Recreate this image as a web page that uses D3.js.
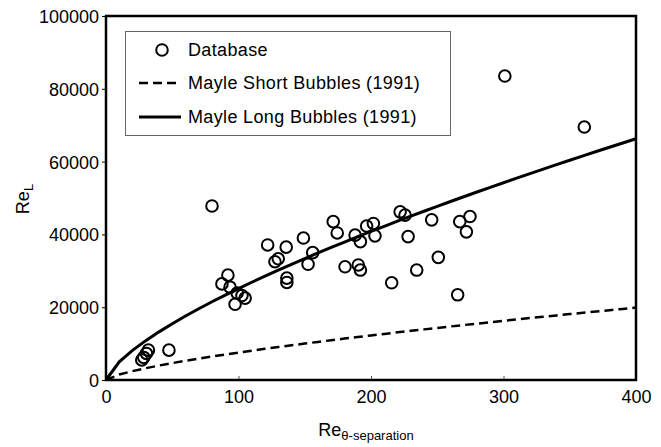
<!DOCTYPE html>
<html>
<head>
<meta charset="utf-8">
<script src="https://cdn.jsdelivr.net/npm/d3@7"></script>
<style>
  body { margin: 0; background: #fff; }
  text { font-family: "Liberation Sans", Arial, sans-serif; fill: #000; }
</style>
</head>
<body>
<svg id="chart" width="661" height="447"></svg>
<script>
// Database points
const dbX = [27, 28.5, 30.5, 32, 47.5, 80, 87.5, 92, 93.6, 97.4, 99, 102.6, 105, 122, 127.5, 130, 136, 136.5, 136.5, 149, 152.5, 156, 171.5, 174.5, 180.4, 188, 190.4, 192, 192, 196.7, 201.8, 203, 215.6, 222, 225.7, 228, 234.5, 245.8, 250.8, 265.4, 267, 272, 274.7, 301, 361];
const dbY = [5500, 6200, 7300, 8200, 8200, 47800, 26400, 28800, 25500, 20800, 23900, 23200, 22500, 37100, 32500, 33300, 36500, 28000, 26800, 39000, 31800, 35000, 43500, 40400, 31100, 39800, 31600, 30200, 38000, 42300, 43000, 39600, 26700, 46200, 45300, 39400, 30200, 44000, 33700, 23400, 43500, 40700, 44900, 83500, 69500];

// Mayle curves sampled along x
const curveX = [0, 10, 20, 30, 40, 50, 60, 70, 80, 90, 100, 110, 120, 130, 140, 150, 160, 170, 180, 190, 200, 210, 220, 230, 240, 250, 260, 270, 280, 290, 300, 310, 320, 330, 340, 350, 360, 370, 380, 390, 400];
const longY = [0, 5012, 8142, 10814, 13226, 15463, 17568, 19569, 21487, 23334, 25119, 26852, 28539, 30182, 31790, 33364, 34904, 36418, 37906, 39366, 40806, 42224, 43622, 45005, 46362, 47706, 49030, 50348, 51643, 52926, 54199, 55455, 56703, 57939, 59160, 60374, 61578, 62766, 63950, 65123, 66290];
const shortY = [0, 1504, 2443, 3244, 3968, 4639, 5270, 5871, 6446, 7000, 7536, 8056, 8562, 9055, 9537, 10009, 10471, 10925, 11372, 11810, 12242, 12667, 13087, 13502, 13909, 14312, 14709, 15104, 15493, 15878, 16260, 16637, 17011, 17382, 17748, 18112, 18473, 18830, 19185, 19537, 19887];

const xTicks = [0, 100, 200, 300, 400];
const yTicks = [0, 20000, 40000, 60000, 80000, 100000];
const legendLabels = ["Database", "Mayle Short Bubbles (1991)", "Mayle Long Bubbles (1991)"];

const L = 106, R = 636, T = 16, B = 380;
const svg = d3.select("#chart");
const x = d3.scaleLinear().domain([0, 400]).range([L, R]);
const y = d3.scaleLinear().domain([0, 100000]).range([B, T]);

// axes
const yAxis = svg.append("g").attr("transform", `translate(${L},0)`)
  .call(d3.axisLeft(y).tickValues(yTicks).tickSize(4).tickPadding(3).tickFormat(d3.format("d")));
yAxis.select(".domain").remove();
yAxis.selectAll("line").attr("stroke", "#000").attr("stroke-width", 1);
yAxis.selectAll("text").style("font-size", "18px").style("font-family", "Liberation Sans, Arial, sans-serif").attr("dy", "0.36em");

const xAxis = svg.append("g").attr("transform", `translate(0,${B})`)
  .call(d3.axisBottom(x).tickValues(xTicks).tickSize(-4).tickPadding(10).tickFormat(d3.format("d")));
xAxis.select(".domain").remove();
xAxis.selectAll("line").attr("stroke", "#555").attr("stroke-width", 1);
xAxis.selectAll("text").style("font-size", "18px").style("font-family", "Liberation Sans, Arial, sans-serif");

// frame
svg.append("rect").attr("x", L).attr("y", T).attr("width", R - L).attr("height", B - T)
  .attr("fill", "none").attr("stroke", "#000").attr("stroke-width", 2.5);

// curves
const line = d3.line().x(d => x(d[0])).y(d => y(d[1]));
svg.append("path").datum(curveX.map((v, i) => [v, shortY[i]]))
  .attr("d", line).attr("fill", "none").attr("stroke", "#000").attr("stroke-width", 2.5)
  .attr("stroke-dasharray", "9,5");
svg.append("path").datum(curveX.map((v, i) => [v, longY[i]]))
  .attr("d", line).attr("fill", "none").attr("stroke", "#000").attr("stroke-width", 3);

// points
svg.append("g").selectAll("circle").data(dbX.map((v, i) => [v, dbY[i]])).join("circle")
  .attr("cx", d => x(d[0])).attr("cy", d => y(d[1])).attr("r", 5.8)
  .attr("fill", "none").attr("stroke", "#000").attr("stroke-width", 2);

// legend
const lg = svg.append("g");
lg.append("rect").attr("x", 125.5).attr("y", 31.5).attr("width", 325).attr("height", 104)
  .attr("fill", "#fff").attr("stroke", "#666").attr("stroke-width", 1);
const rowsY = [50, 83, 117];
lg.append("circle").attr("cx", 162).attr("cy", rowsY[0]).attr("r", 5.8)
  .attr("fill", "none").attr("stroke", "#000").attr("stroke-width", 2);
lg.append("line").attr("x1", 139).attr("x2", 181).attr("y1", rowsY[1]).attr("y2", rowsY[1])
  .attr("stroke", "#000").attr("stroke-width", 2.5).attr("stroke-dasharray", "9,5");
lg.append("line").attr("x1", 139).attr("x2", 181).attr("y1", rowsY[2]).attr("y2", rowsY[2])
  .attr("stroke", "#000").attr("stroke-width", 3);
legendLabels.forEach((t, i) => {
  lg.append("text").attr("x", 188).attr("y", rowsY[i]).attr("dy", "0.36em")
    .style("font-size", "18px").style("letter-spacing", "0.35px").text(t);
});

// axis titles
const xt = svg.append("text").attr("x", 366).attr("y", 436).attr("text-anchor", "middle").style("font-size", "18px");
xt.append("tspan").text("Re");
xt.append("tspan").attr("dy", 4).style("font-size", "13px").text("θ-separation");

const yt = svg.append("text").attr("transform", "translate(29,199) rotate(-90)").attr("text-anchor", "middle").style("font-size", "18px");
yt.append("tspan").text("Re");
yt.append("tspan").attr("dy", 4).style("font-size", "13px").text("L");
</script>
</body>
</html>
